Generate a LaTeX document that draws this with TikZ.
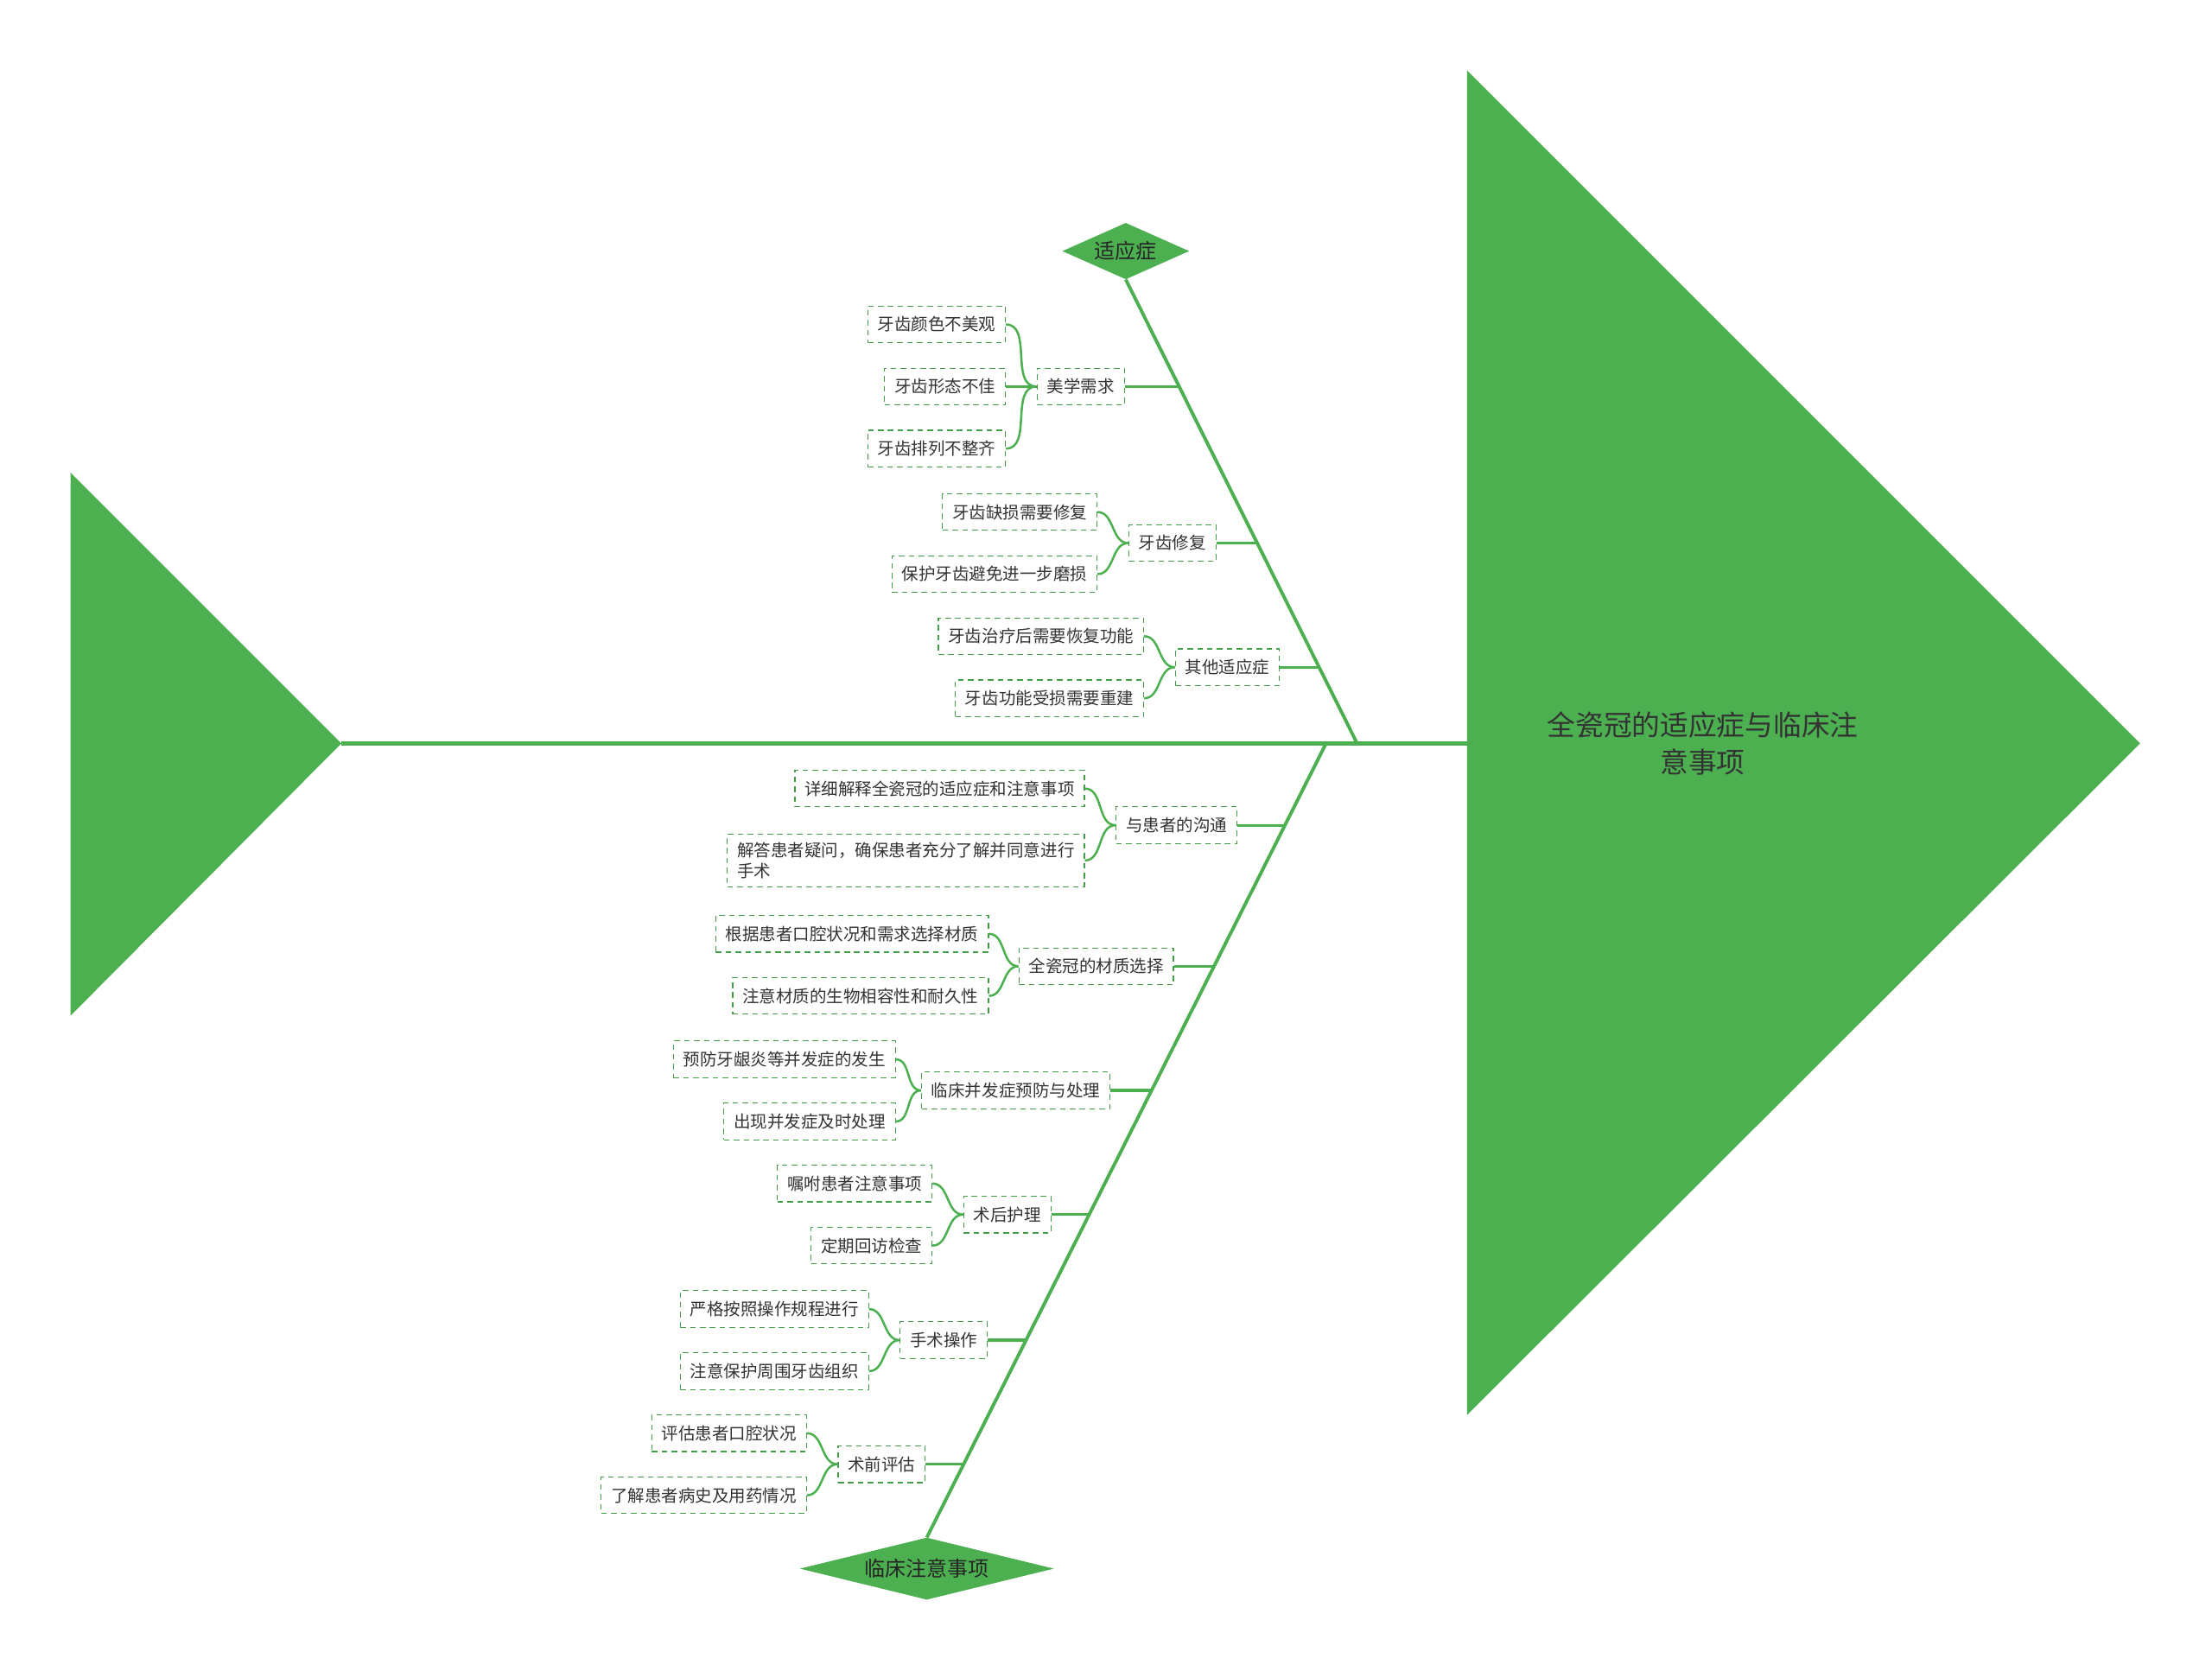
\documentclass[tikz,border=0pt]{standalone}
\usepackage{fontspec}
\setmainfont{Noto Sans CJK SC}
\usetikzlibrary{shapes.geometric}
\definecolor{FishGreen}{RGB}{76,175,80}
\definecolor{TextGray}{RGB}{51,51,51}

\begin{document}
\begin{tikzpicture}[
        x=0.5mm,y=-0.5mm,
        every node/.style={font=\fontsize{17}{21.3}\selectfont,text=TextGray},
        leafBox/.style={draw=FishGreen!90!black,dash pattern=on 2mm off 1.5mm,line width=1pt,inner xsep=3.5mm,minimum height=13mm},
        catDiamond/.style={diamond,fill=FishGreen,inner sep=0pt,font=\fontsize{21}{25}\selectfont,text=black!85},
        spineLine/.style={draw=FishGreen,line width=4pt},
        boneLine/.style={draw=FishGreen,line width=3.4pt},
        twigLine/.style={draw=FishGreen,line width=2.8pt},
        braceLine/.style={draw=FishGreen,line width=2.2pt}]
        \useasboundingbox (0,0) rectangle (1568,1184);
        \fill[white] (0,0) rectangle (1568,1184);
        % tail and head
        \fill[FishGreen] (50,335) -- (242,527) -- (50,720) -- cycle;
        \fill[FishGreen] (1040,50) -- (1517,527) -- (1040,1003) -- cycle;
        \coordinate (tail) at (242,527);
        \coordinate (spineEnd) at (1040,527);
        \node[font=\fontsize{28.5}{38}\selectfont,align=center,text=black!80] (head) at (1207,527) {全瓷冠的适应症与临床注\\意事项};
        \draw[spineLine] (tail) -- (spineEnd);
        % upper bone
        \node[catDiamond,aspect=2.25,minimum width=45mm,minimum height=20mm] (cat1) at (798,178) {适应症};
        \coordinate (j1) at (962,527);
        \draw[boneLine] (cat1.south) -- (j1);
        \coordinate (b11) at (836,274);
        \coordinate (b12) at (891,385);
        \coordinate (b13) at (935,473);
        \node[leafBox] (m11) at (766,274) {美学需求};
        \node[leafBox] (m12) at (831,385) {牙齿修复};
        \node[leafBox] (m13) at (870,473) {其他适应症};
        \draw[twigLine] (m11.east)--(b11) (m12.east)--(b12) (m13.east)--(b13);
        \node[leafBox,anchor=east] (l111) at (713,230) {牙齿颜色不美观};
        \node[leafBox,anchor=east] (l112) at (713,274) {牙齿形态不佳};
        \node[leafBox,anchor=east] (l113) at (713,318) {牙齿排列不整齐};
        \node[leafBox,anchor=east] (l121) at (778,363) {牙齿缺损需要修复};
        \node[leafBox,anchor=east] (l122) at (778,407) {保护牙齿避免进一步磨损};
        \node[leafBox,anchor=east] (l131) at (811,451) {牙齿治疗后需要恢复功能};
        \node[leafBox,anchor=east] (l132) at (811,495) {牙齿功能受损需要重建};
        \draw[braceLine] (l111.east) to[out=0,in=180] (m11.west);
        \draw[braceLine] (l112.east) -- (m11.west);
        \draw[braceLine] (l113.east) to[out=0,in=180] (m11.west);
        \draw[braceLine] (l121.east) to[out=0,in=180] (m12.west);
        \draw[braceLine] (l122.east) to[out=0,in=180] (m12.west);
        \draw[braceLine] (l131.east) to[out=0,in=180] (m13.west);
        \draw[braceLine] (l132.east) to[out=0,in=180] (m13.west);
        % lower bone
        \node[catDiamond,aspect=4,minimum width=90mm,minimum height=22mm] (cat2) at (657,1112) {临床注意事项};
        \coordinate (j2) at (940,527);
        \draw[boneLine] (j2) -- (cat2.north);
        \coordinate (b21) at (911,585);
        \coordinate (b22) at (861,685);
        \coordinate (b23) at (816,773);
        \coordinate (b24) at (772,861);
        \coordinate (b25) at (727,950);
        \coordinate (b26) at (683,1038);
        \node[leafBox] (m21) at (834,585) {与患者的沟通};
        \node[leafBox] (m22) at (777,685) {全瓷冠的材质选择};
        \node[leafBox] (m23) at (720,773) {临床并发症预防与处理};
        \node[leafBox] (m24) at (714,861) {术后护理};
        \node[leafBox] (m25) at (669,950) {手术操作};
        \node[leafBox] (m26) at (625,1038) {术前评估};
        \draw[twigLine] (m21.east)--(b21) (m22.east)--(b22) (m23.east)--(b23)
          (m24.east)--(b24) (m25.east)--(b25) (m26.east)--(b26);
        \node[leafBox,anchor=east] (l211) at (769,559) {详细解释全瓷冠的适应症和注意事项};
        \node[leafBox,anchor=east,align=left,inner ysep=2.8mm] (l212) at (769,610) {解答患者疑问，确保患者充分了解并同意进行\\手术};
        \node[leafBox,anchor=east] (l221) at (701,662) {根据患者口腔状况和需求选择材质};
        \node[leafBox,anchor=east] (l222) at (701,706) {注意材质的生物相容性和耐久性};
        \node[leafBox,anchor=east] (l231) at (635,751) {预防牙龈炎等并发症的发生};
        \node[leafBox,anchor=east] (l232) at (635,795) {出现并发症及时处理};
        \node[leafBox,anchor=east] (l241) at (661,839) {嘱咐患者注意事项};
        \node[leafBox,anchor=east] (l242) at (661,883) {定期回访检查};
        \node[leafBox,anchor=east] (l251) at (616,928) {严格按照操作规程进行};
        \node[leafBox,anchor=east] (l252) at (616,972) {注意保护周围牙齿组织};
        \node[leafBox,anchor=east] (l261) at (572,1016) {评估患者口腔状况};
        \node[leafBox,anchor=east] (l262) at (572,1060) {了解患者病史及用药情况};
        \draw[braceLine] (l211.east) to[out=0,in=180] (m21.west);
        \draw[braceLine] (l212.east) to[out=0,in=180] (m21.west);
        \draw[braceLine] (l221.east) to[out=0,in=180] (m22.west);
        \draw[braceLine] (l222.east) to[out=0,in=180] (m22.west);
        \draw[braceLine] (l231.east) to[out=0,in=180] (m23.west);
        \draw[braceLine] (l232.east) to[out=0,in=180] (m23.west);
        \draw[braceLine] (l241.east) to[out=0,in=180] (m24.west);
        \draw[braceLine] (l242.east) to[out=0,in=180] (m24.west);
        \draw[braceLine] (l251.east) to[out=0,in=180] (m25.west);
        \draw[braceLine] (l252.east) to[out=0,in=180] (m25.west);
        \draw[braceLine] (l261.east) to[out=0,in=180] (m26.west);
        \draw[braceLine] (l262.east) to[out=0,in=180] (m26.west);
      \end{tikzpicture}
\end{document}
